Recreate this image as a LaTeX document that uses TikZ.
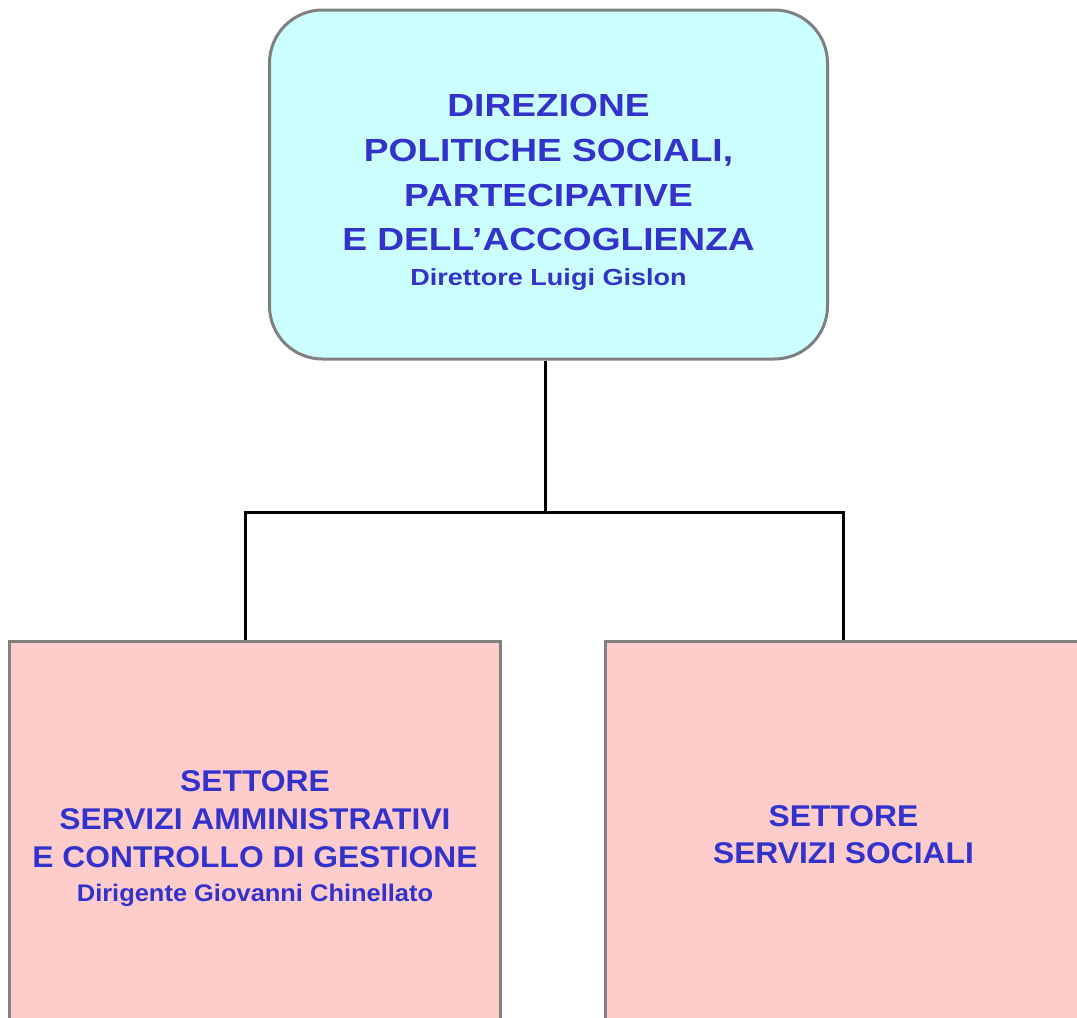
\documentclass[tikz,border=0pt]{standalone}
\usepackage{fontspec}
\setmainfont{Liberation Sans}
\newfontfamily\topfont{Liberation Sans}[FakeStretch=1.16]
\newfontfamily\boxfont{Liberation Sans}[FakeStretch=1.06]
\usepackage{tikz}
\definecolor{testo}{HTML}{3333CC}
\definecolor{ciano}{HTML}{CCFFFF}
\definecolor{rosa}{HTML}{FFCCCC}
\definecolor{bordo}{HTML}{808080}

\begin{document}
\begin{tikzpicture}[x=1pt,y=-1pt,
    box/.style={draw=bordo,line width=3pt,inner sep=0pt,align=center,text=testo},
    link/.style={draw=black,line width=3pt}]
    \useasboundingbox (0,0) rectangle (1077,1018);
    \clip (0,0) rectangle (1077,1018);
    \node[box,fill=ciano,rounded corners=53pt,minimum width=558pt,minimum height=349pt,
      font=\topfont\bfseries\fontsize{32}{44.7}\selectfont] (a) at (548.5,184.5)
      {\rule{0pt}{38.5pt}DIREZIONE\\POLITICHE SOCIALI,\\PARTECIPATIVE\\E DELL’ACCOGLIENZA\\[-9.7pt]\fontsize{23.3}{28}\selectfont Direttore Luigi Gislon};
    \node[box,fill=rosa,minimum width=491pt,minimum height=386.5pt,
      font=\boxfont\bfseries\fontsize{30}{37.8}\selectfont] (b) at (255,834.75)
      {\rule{0pt}{29pt}SETTORE\\SERVIZI AMMINISTRATIVI\\E CONTROLLO DI GESTIONE\\[-3.8pt]\fontsize{24}{28}\selectfont Dirigente Giovanni Chinellato};
    \node[box,fill=rosa,minimum width=476pt,minimum height=386.5pt,
      font=\boxfont\bfseries\fontsize{30}{37.8}\selectfont] (c) at (843.5,834.75)
      {SETTORE\\SERVIZI SOCIALI};
    \coordinate (x) at (545,512);
    \coordinate (y) at (245,512);
    \coordinate (z) at (843,512);
    \draw[link] (a.south -| x) -- (x);
    \draw[link] (b.north -| y) -- (y) -- (z) -- (c.north -| z);
\end{tikzpicture}
\end{document}
